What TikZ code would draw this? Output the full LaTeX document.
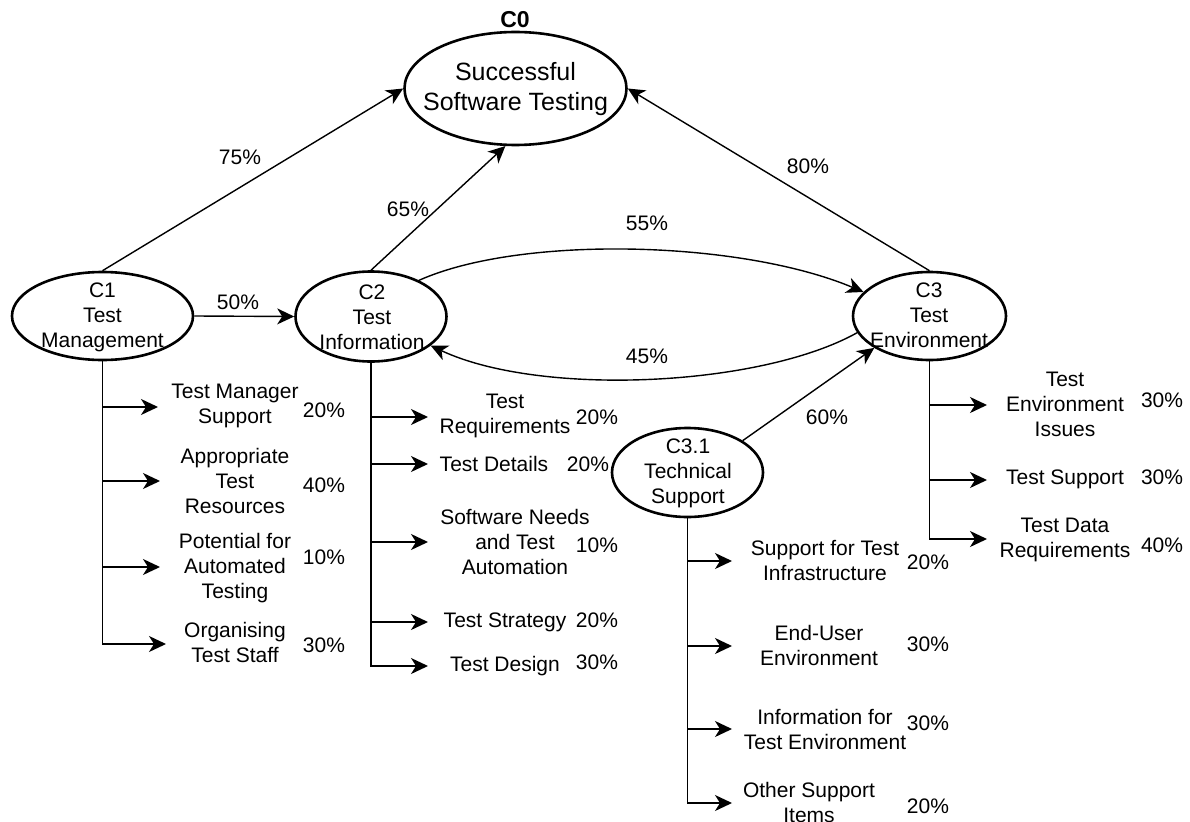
\documentclass[tikz,border=0pt]{standalone}
\usepackage{fontspec}
\setmainfont{Liberation Sans}
\usetikzlibrary{shapes.geometric,arrows.meta}

\begin{document}
\begin{tikzpicture}[x=1pt,y=-1pt,
  every node/.style={font=\fontsize{21}{25}\selectfont, inner sep=0pt, align=center},
  goal/.style={ellipse, draw, line width=2.6pt, inner sep=0pt},
  tip/.style={-{Stealth[length=17pt,width=16pt,inset=5pt]}},
  link/.style={tip, line width=1.4pt},
  branch/.style={tip, line width=1.6pt},
  bigtext/.style={font=\fontsize{25}{29.5}\selectfont}
]
\useasboundingbox (0,0) rectangle (1190,821);

% ---- concept ellipses ----
\node[goal, minimum width=222pt, minimum height=113pt] (c0) at (515.5,88.5) {};
\node[bigtext] (c0t) at (515.5,89) {Successful\\Software Testing};
\node[font=\bfseries\fontsize{23}{27}\selectfont] (c0n) at (515,20) {C0};

\node[goal, minimum width=181pt, minimum height=88pt] (c1) at (102.5,316) {};
\node (c1t) at (102.5,317) {C1\\Test\\Management};

\node[goal, minimum width=151pt, minimum height=90pt] (c2) at (371,316.5) {};
\node (c2t) at (372,317) {C2\\Test\\Information};

\node[goal, minimum width=153pt, minimum height=88pt] (c3) at (929.5,316) {};
\node (c3t) at (929,315) {C3\\Test\\Environment};

\node[goal, minimum width=151pt, minimum height=89pt] (c31) at (687.5,472.5) {};
\node (c31t) at (688,473) {C3.1\\Technical\\Support};

% ---- weighted links between concepts ----
\draw[link] (c1.north) -- (c0.west);
\node (p75) at (240,157) {75\%};
\draw[link] (c2.north) -- (c0.-100);
\node (p65) at (408,209) {65\%};
\draw[link] (c3.north) -- (c0.east);
\node (p80) at (808,166) {80\%};
\draw[link] (c1.east) -- (c2.west);
\node (p50) at (238,302) {50\%};
\draw[link] (c2.37) .. controls (520,235) and (740,240) .. (c3.160);
\node (p55) at (647,223) {55\%};
\draw[link] (c3.193) .. controls (760,387) and (540,397) .. (c2.-26);
\node (p45) at (647,356) {45\%};
\draw[link] (c31.30) -- (c3.-150);
\node (p60) at (827,417) {60\%};

% ---- C1 factors ----
\node (t11) at (235,406) {Test Manager\\Support};
\node (q11) at (324,410) {20\%};
\node (t12) at (235,481) {Appropriate\\Test\\Resources};
\node (q12) at (324,485) {40\%};
\node (t13) at (235,568) {Potential for\\Automated\\Testing};
\node (q13) at (324,557) {10\%};
\node (t14) at (235,642) {Organising\\Test Staff};
\node (q14) at (324,645) {30\%};
\coordinate (a11) at (158,407);
\coordinate (a12) at (160,481);
\coordinate (a13) at (160,567);
\coordinate (a14) at (166,644);
\foreach \a in {a11,a12,a13,a14} \draw[branch] (c1.south) |- (\a);

% ---- C2 factors ----
\node (t21) at (505,416) {Test\\Requirements};
\node (q21) at (597,417) {20\%};
\node (t22) at (494,464) {Test Details};
\node (q22) at (588,464) {20\%};
\node (t23) at (515,542) {Software Needs\\and Test\\Automation};
\node (q23) at (597,545) {10\%};
\node (t24) at (505,622) {Test Strategy};
\node (q24) at (597,620) {20\%};
\node (t25) at (505,666) {Test Design};
\node (q25) at (597,662) {30\%};
\coordinate (a21) at (428,417);
\coordinate (a22) at (428,464);
\coordinate (a23) at (428,542);
\coordinate (a24) at (428,622);
\coordinate (a25) at (428,666);
\foreach \a in {a21,a22,a23,a24,a25} \draw[branch] (c2.south) |- (\a);

% ---- C3 factors ----
\node (t31) at (1065,404) {Test\\Environment\\Issues};
\node (q31) at (1162,400) {30\%};
\node (t32) at (1065,479) {Test Support};
\node (q32) at (1162,477) {30\%};
\node (t33) at (1065,540) {Test Data\\Requirements};
\node (q33) at (1162,545) {40\%};
\coordinate (a31) at (987,405);
\coordinate (a32) at (987,480);
\coordinate (a33) at (987,539);
\foreach \a in {a31,a32,a33} \draw[branch] (c3.south) |- (\a);

% ---- C3.1 factors ----
\node (t41) at (825,560) {Support for Test\\Infrastructure};
\node (q41) at (928,562) {20\%};
\node (t42) at (819,645.5) {End-User\\Environment};
\node (q42) at (928,644) {30\%};
\node (t43) at (825,729) {Information for\\Test Environment};
\node (q43) at (928,723) {30\%};
\node (t44) at (809,802) {Other Support\\Items};
\node (q44) at (928,806) {20\%};
\coordinate (a41) at (732,561);
\coordinate (a42) at (732,646);
\coordinate (a43) at (732,729);
\coordinate (a44) at (732,803);
\foreach \a in {a41,a42,a43,a44} \draw[branch] (c31.south) |- (\a);
\end{tikzpicture}
\end{document}
